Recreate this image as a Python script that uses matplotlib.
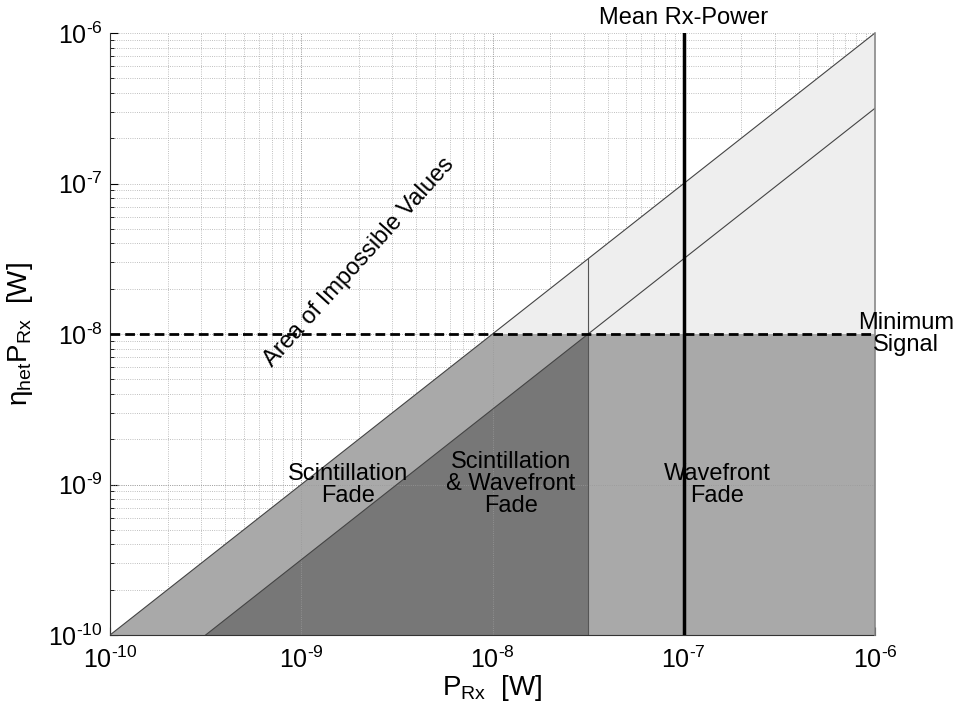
import matplotlib
matplotlib.use("Agg")
import matplotlib.pyplot as plt
from matplotlib.ticker import FuncFormatter, NullFormatter
import numpy as np

plt.rcParams['font.family'] = ['Liberation Sans', 'DejaVu Sans']
plt.rcParams['mathtext.fontset'] = 'custom'
plt.rcParams['mathtext.rm'] = 'Liberation Sans'
plt.rcParams['mathtext.it'] = 'Liberation Sans'

# axis range and levels (W)
p_min, p_max = 1e-10, 1e-6
mean_rx_power = 1e-7
min_signal = 1e-8
wavefront_ratio = 10 ** -0.5     # lower diagonal: eta_het = -5 dB
wavefront_edge = min_signal / wavefront_ratio   # ~3.16e-8

region_labels = ["Scintillation\nFade", "Scintillation\n& Wavefront\nFade", "Wavefront\nFade"]
region_xpos = [1.75e-9, 1.25e-8, 1.5e-7]
region_ypos = [1e-9, 1e-9, 1e-9]

light = '#eeeeee'
mid = '#a9a9a9'
dark = '#777777'

fig = plt.figure(figsize=(9.64, 7.15), dpi=100)
ax = fig.add_axes([110/964, 80/715, 765/964, 602/715])
ax.set_xscale('log')
ax.set_yscale('log')
ax.set_xlim(p_min, p_max)
ax.set_ylim(p_min, p_max)

ax.grid(True, which='both', ls=':', lw=0.6, color='#aaaaaa', zorder=0)
ax.set_axisbelow(True)

# light region: above minimum signal, below y = x
ax.fill([min_signal, p_max, p_max], [min_signal, p_max, min_signal],
        color=light, lw=0, zorder=1)
# medium region: below minimum signal and y = x
ax.fill([p_min, min_signal, p_max, p_max], [p_min, min_signal, min_signal, p_min],
        color=mid, lw=0, zorder=1)
# dark region: below lower diagonal, left of wavefront edge
ax.fill([p_min / wavefront_ratio, wavefront_edge, wavefront_edge],
        [p_min, min_signal, p_min], color=dark, lw=0, zorder=1)

# major grid lines faintly over the fills
for v in [1e-9, 1e-8]:
    ax.axvline(v, ls=':', lw=0.6, color='#999999', zorder=2)
ax.axhline(1e-9, ls=':', lw=0.6, color='#999999', zorder=2)

# boundary lines
ax.plot([p_min, p_max], [p_min, p_max], color='#444444', lw=0.8, zorder=3)
ax.plot([p_min / wavefront_ratio, p_max], [p_min, p_max * wavefront_ratio],
        color='#444444', lw=0.8, zorder=3)
ax.plot([wavefront_edge, wavefront_edge], [p_min, wavefront_edge],
        color='#555555', lw=0.8, zorder=3)
ax.plot([p_max, p_max], [p_min, p_max], color='#888888', lw=1.2, zorder=3, clip_on=False)

ax.axhline(min_signal, color='black', lw=2, ls=(0, (3.5, 1.8)), zorder=4)
ax.axvline(mean_rx_power, color='black', lw=2.5, zorder=4)

for lab, xx, yy in zip(region_labels, region_xpos, region_ypos):
    ax.text(xx, yy, lab, ha='center', va='center', fontsize=17, zorder=5,
            linespacing=1.0)

ax.annotate("Mean Rx-Power", xy=(mean_rx_power, 1.025), xycoords=('data', 'axes fraction'),
            ha='center', va='center', fontsize=17, annotation_clip=False)
ax.text(1.45e-6, 1e-8, "Minimum\nSignal", ha='center', va='center',
        fontsize=17, clip_on=False, linespacing=1.0)
ax.text(2.0e-9, 3.0e-8, "Area of Impossible Values", ha='center', va='center',
        fontsize=17, rotation=48, zorder=5)

ax.set_xlabel(r'$\mathregular{P_{Rx}}$  [W]', fontsize=20, labelpad=0)
ax.set_ylabel(r'$\mathregular{\eta_{het}P_{Rx}}$  [W]', fontsize=20, labelpad=2)
ax.yaxis.set_label_coords(-0.098, 0.5)


def log_fmt(v, pos):
    e = int(round(np.log10(v)))
    return r'$\mathregular{10^{\text{-}%d}}$' % abs(e)


ax.xaxis.set_major_formatter(FuncFormatter(log_fmt))
ax.yaxis.set_major_formatter(FuncFormatter(log_fmt))
ax.xaxis.set_minor_formatter(NullFormatter())
ax.yaxis.set_minor_formatter(NullFormatter())

ax.tick_params(which='both', direction='in', labelsize=18)
ax.tick_params(which='major', length=6)
ax.tick_params(axis='x', which='major', pad=8)
ax.tick_params(axis='y', which='major', pad=5)
ax.tick_params(which='minor', length=3)
ax.spines['top'].set_visible(False)
ax.spines['right'].set_visible(False)
ax.spines['left'].set_color('#333333')
ax.spines['bottom'].set_color('#333333')

fig.savefig('out.png', dpi=100)
